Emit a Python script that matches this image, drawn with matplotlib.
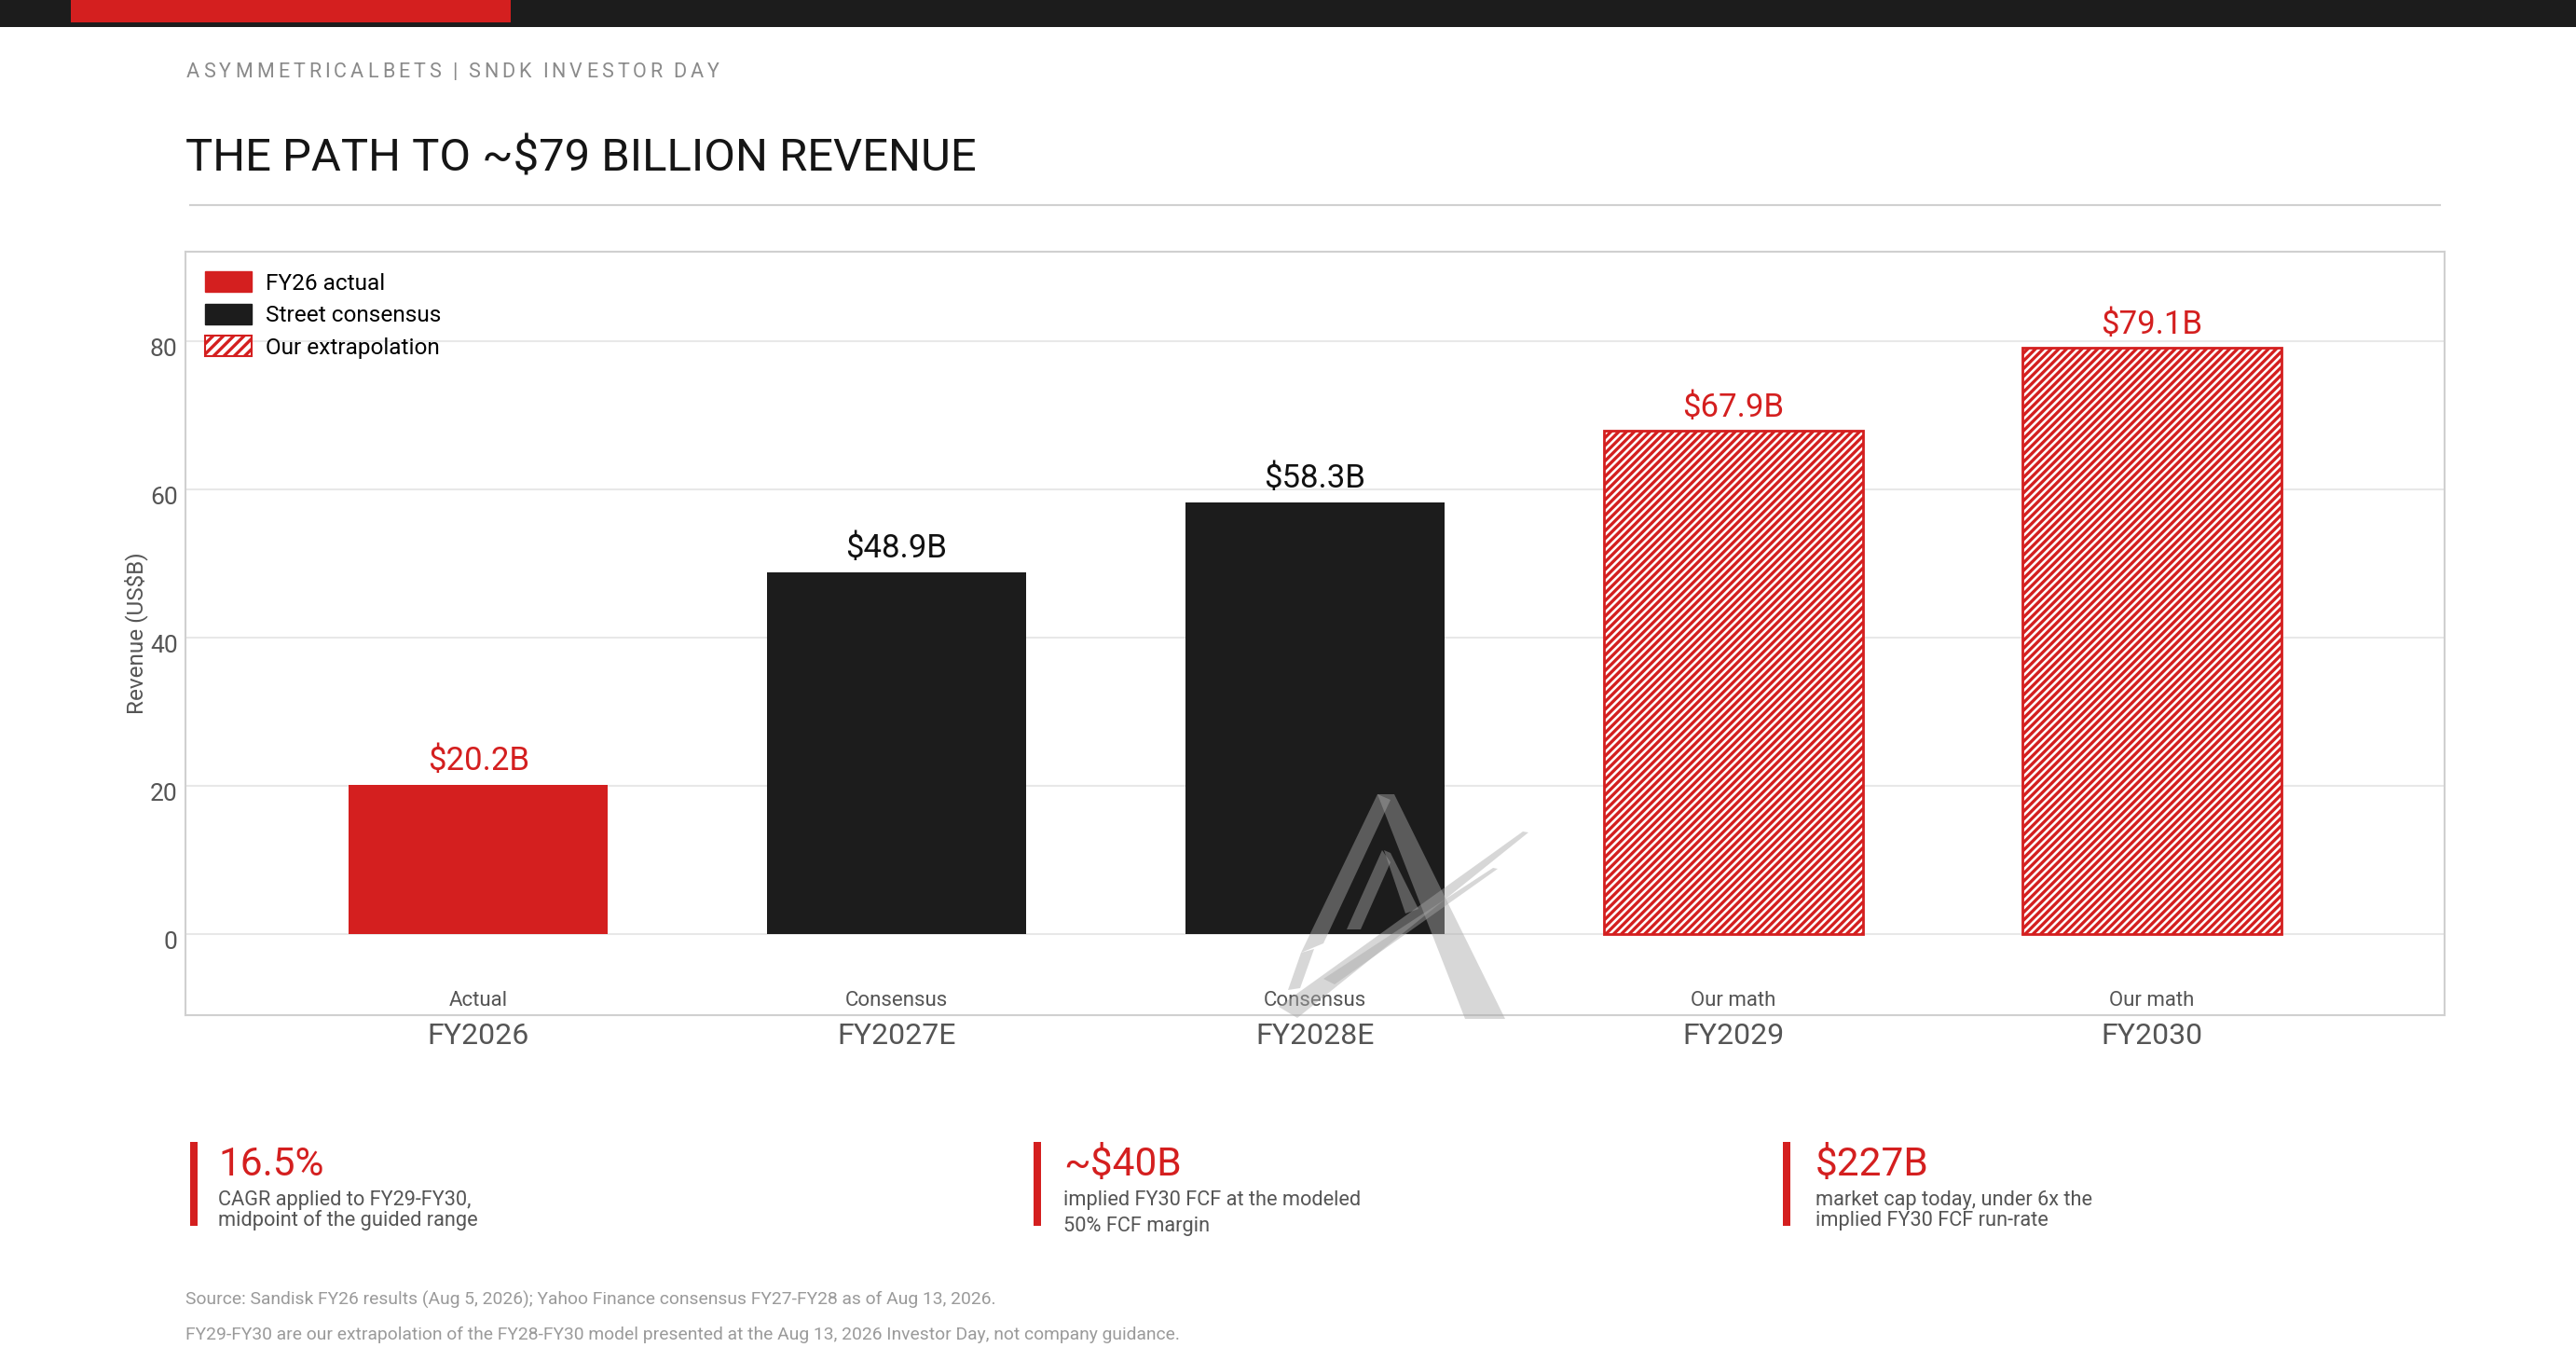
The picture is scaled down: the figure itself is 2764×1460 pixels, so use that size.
import matplotlib
matplotlib.use("Agg")
import matplotlib.pyplot as plt
import matplotlib.transforms as mtrans
from matplotlib.patches import Patch, Rectangle, Polygon
from matplotlib.lines import Line2D

# ---- data -------------------------------------------------------------
years = ["FY2026", "FY2027E", "FY2028E", "FY2029", "FY2030"]
kinds = ["Actual", "Consensus", "Consensus", "Our math", "Our math"]
revenue = [20.2, 48.9, 58.3, 67.9, 79.1]
series = ["actual", "consensus", "consensus", "extrap", "extrap"]
yticks = [0, 20, 40, 60, 80]

legend_labels = ["FY26 actual", "Street consensus", "Our extrapolation"]

stat_values = ["16.5%", "~$40B", "$227B"]
stat_notes = [
    ["CAGR applied to FY29-FY30,", "midpoint of the guided range"],
    ["implied FY30 FCF at the modeled", "50% FCF margin"],
    ["market cap today, under 6x the", "implied FY30 FCF run-rate"],
]
footnotes = [
    "Source: Sandisk FY26 results (Aug 5, 2026); Yahoo Finance consensus FY27-FY28 as of Aug 13, 2026.",
    "FY29-FY30 are our extrapolation of the FY28-FY30 model presented at the Aug 13, 2026 Investor Day, not company guidance.",
]

# ---- style ------------------------------------------------------------
RED = "#d41f1f"
BLACK = "#1c1c1c"
GREY = "#555555"
plt.rcParams["font.family"] = ["Roboto", "DejaVu Sans"]
plt.rcParams["hatch.linewidth"] = 2.4

W, H = 2764, 1460
fig = plt.figure(figsize=(W / 100, H / 100), dpi=100)


def fx(x):
    return x / W


def fy(y):
    return 1 - y / H


def spaced_text(x, y, s, width, **kw):
    """Draw s letter-spaced so that it spans `width` pixels."""
    r = fig.canvas.get_renderer()
    arts, widths = [], []
    for ch in s:
        t = fig.text(0, 0, ch if ch != " " else "n", **kw)
        w = t.get_window_extent(r).width
        if ch == " ":
            t.set_text("")
            w *= 0.3
        arts.append(t)
        widths.append(w)
    gap = (width - sum(widths)) / (len(s) - 1)
    cx = x
    for t, w in zip(arts, widths):
        t.set_position((fx(cx), fy(y)))
        cx += w + gap


# header band
fig.add_artist(Rectangle((0, fy(29)), 1, 29 / H, transform=fig.transFigure,
                         color=BLACK, lw=0))
fig.add_artist(Rectangle((fx(76), fy(24)), 472 / W, 24 / H, transform=fig.transFigure,
                         color=RED, lw=0))

spaced_text(200, 83, "ASYMMETRICALBETS | SNDK INVESTOR DAY", 572,
            fontsize=15.5, color="#8a8a8a", va="baseline")
fig.text(fx(199), fy(183), "THE PATH TO ~$79 BILLION REVENUE", fontsize=35.3,
         color="#151515", va="baseline")
fig.add_artist(Line2D([fx(204), fx(2618)], [fy(220), fy(220)], lw=1.5,
                      color="#d0d0d0", transform=fig.transFigure))

# ---- chart ------------------------------------------------------------
ax = fig.add_axes([fx(199), fy(1089), (2623 - 199) / W, (1089 - 270) / H])
ax.set_xlim(-0.70, 4.70)
ax.set_ylim(-10.9, 92.1)

for i, (v, s) in enumerate(zip(revenue, series)):
    if s == "actual":
        ax.bar(i, v, 0.62, color=RED, zorder=2)
        c = RED
    elif s == "consensus":
        ax.bar(i, v, 0.62, color=BLACK, zorder=2)
        c = "#111111"
    else:
        ax.bar(i, v, 0.62, facecolor="white", edgecolor=RED, hatch="////",
               lw=2, zorder=2)
        c = RED
    ax.annotate(f"${v}B", (i, v), xytext=(0, 6), textcoords="offset points",
                ha="center", va="bottom", fontsize=25, color=c)
    ax.text(i, -8.9, kinds[i], ha="center", va="center", fontsize=16, color=GREY)

ax.set_xticks(range(len(years)))
ax.set_xticklabels(years, fontsize=23, color=GREY)
ax.set_yticks(yticks)
ax.set_yticklabels([str(t) for t in yticks], fontsize=19, color=GREY)
ax.tick_params(length=0)
ax.tick_params(axis="x", pad=6)
ax.tick_params(axis="y", pad=6)
shift = mtrans.ScaledTranslation(0, -0.06, fig.dpi_scale_trans)
for lbl in ax.get_yticklabels():
    lbl.set_transform(lbl.get_transform() + shift)
ax.grid(axis="y", color="#e8e8e8", lw=1.5, zorder=0)
ax.set_axisbelow(True)
for sp in ax.spines.values():
    sp.set_color("#d0d0d0")
    sp.set_linewidth(1.5)
ax.set_ylabel("Revenue (US$B)", fontsize=17.5, color=GREY)
ax.yaxis.set_label_coords(-0.0165, 0.5)

handles = [
    Patch(facecolor=RED, edgecolor=RED),
    Patch(facecolor=BLACK, edgecolor=BLACK),
    Patch(facecolor="white", edgecolor=RED, hatch="///", lw=1.5),
]
ax.legend(handles, legend_labels, loc="upper left", bbox_to_anchor=(0.0087, 0.974),
          frameon=False, fontsize=17.6, handlelength=2.05, handleheight=1.0,
          labelspacing=0.42, handletextpad=0.6, borderpad=0, borderaxespad=0)

# watermark logo (rough)
logo = [
    [(1478, 852), (1496, 852), (1615, 1093), (1572, 1093)],
    [(1478, 852), (1492, 858), (1420, 1012), (1396, 1022)],
    [(1483, 912), (1492, 925), (1460, 997), (1445, 997)],
    [(1485, 912), (1492, 915), (1522, 975), (1508, 980)],
    [(1372, 1080), (1392, 1092), (1640, 893), (1634, 892)],
    [(1420, 1050), (1432, 1056), (1607, 932), (1602, 931)],
    [(1396, 1022), (1410, 1018), (1395, 1060), (1382, 1062)],
]
for pts in logo:
    fig.add_artist(Polygon([(fx(x), fy(y)) for x, y in pts], closed=True,
                           transform=fig.transFigure, facecolor="#a8a8a8",
                           edgecolor="none", alpha=0.45, zorder=5))

# ---- stat blocks --------------------------------------------------------
bar_x = [204, 1109, 1913]
text_x = [234, 1141, 1948]
line2_y = [1315, 1321, 1315]
for i in range(3):
    fig.add_artist(Rectangle((fx(bar_x[i]), fy(1315)), 8 / W, 90 / H,
                             transform=fig.transFigure, color=RED, lw=0))
    fig.text(fx(text_x[i]), fy(1261), stat_values[i], fontsize=30.5, color=RED,
             va="baseline")
    fig.text(fx(text_x[i]), fy(1293), stat_notes[i][0], fontsize=15.7, color=GREY,
             va="baseline")
    fig.text(fx(text_x[i]), fy(line2_y[i]), stat_notes[i][1], fontsize=15.7,
             color=GREY, va="baseline")

fig.text(fx(199), fy(1400), footnotes[0], fontsize=13.9, color="#9a9a9a", va="baseline")
fig.text(fx(199), fy(1437), footnotes[1], fontsize=13.9, color="#9a9a9a", va="baseline")

fig.savefig("out.png", dpi=100, facecolor="white")
